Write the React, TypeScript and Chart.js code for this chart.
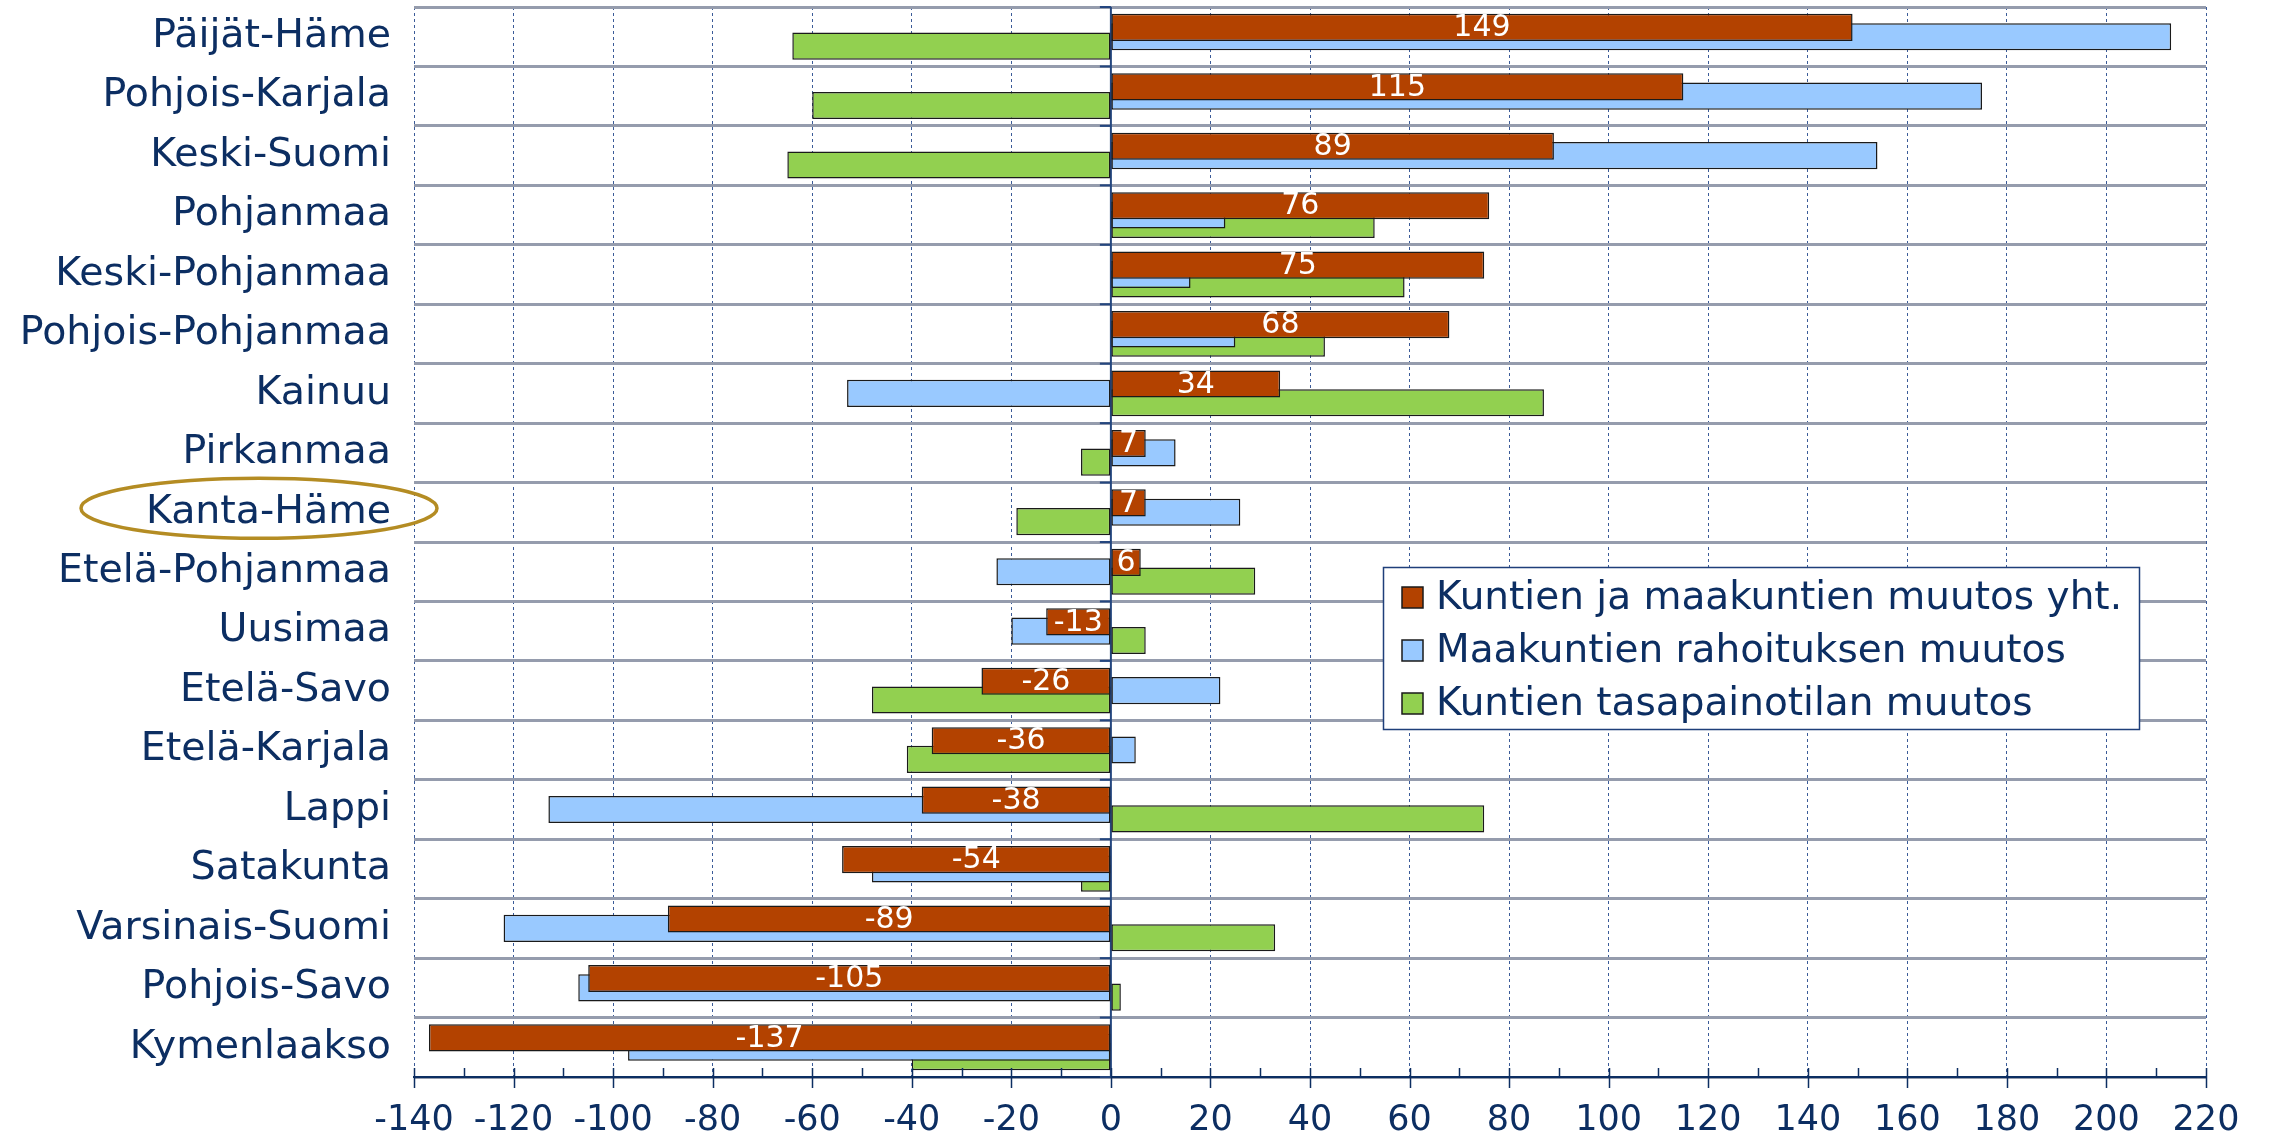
import React, { useEffect, useRef } from 'react';
import { Chart, registerables } from 'chart.js';

Chart.register(...registerables);

const categories = [
  'Päijät-Häme', 'Pohjois-Karjala', 'Keski-Suomi', 'Pohjanmaa', 'Keski-Pohjanmaa',
  'Pohjois-Pohjanmaa', 'Kainuu', 'Pirkanmaa', 'Kanta-Häme', 'Etelä-Pohjanmaa',
  'Uusimaa', 'Etelä-Savo', 'Etelä-Karjala', 'Lappi', 'Satakunta',
  'Varsinais-Suomi', 'Pohjois-Savo', 'Kymenlaakso',
];
const totalChange = [149, 115, 89, 76, 75, 68, 34, 7, 7, 6, -13, -26, -36, -38, -54, -89, -105, -137];
const regionFundingChange = [213, 175, 154, 23, 16, 25, -53, 13, 26, -23, -20, 22, 5, -113, -48, -122, -107, -97];
const municipalBalanceChange = [-64, -60, -65, 53, 59, 43, 87, -6, -19, 29, 7, -48, -41, 75, -6, 33, 2, -40];
const seriesNames = [
  'Kuntien ja maakuntien muutos yht.',
  'Maakuntien rahoituksen muutos',
  'Kuntien tasapainotilan muutos',
];
const seriesColors = ['#b34200', '#99c9ff', '#92d050'];
const xMin = -140;
const xMax = 220;
const xStep = 20;
const highlightedCategory = 'Kanta-Häme';

const NAVY = '#0c2e62';
const FONT = "'DejaVu Sans', Verdana, sans-serif";

const decorPlugin = {
  id: 'decor',
  beforeDatasetsDraw(chart: any) {
    const { ctx, chartArea, scales } = chart;
    const x = scales.x;
    const x0 = x.getPixelForValue(0);
    ctx.save();
    ctx.strokeStyle = '#24467f';
    ctx.lineWidth = 2;
    ctx.beginPath();
    ctx.moveTo(x0, chartArea.top);
    ctx.lineTo(x0, chartArea.bottom);
    ctx.stroke();
    for (let i = 0; i <= categories.length; i++) {
      const py = chartArea.top + (i * (chartArea.bottom - chartArea.top)) / categories.length;
      ctx.beginPath();
      ctx.moveTo(x0 - 11, py);
      ctx.lineTo(x0, py);
      ctx.stroke();
    }
    ctx.restore();
  },
  afterDatasetsDraw(chart: any) {
    const { ctx } = chart;
    const meta = chart.getDatasetMeta(0);
    ctx.save();
    ctx.font = `30px ${FONT}`;
    ctx.fillStyle = '#ffffff';
    ctx.textAlign = 'center';
    ctx.textBaseline = 'middle';
    meta.data.forEach((el: any, i: number) => {
      const p = el.getProps(['x', 'y', 'base'], true);
      ctx.fillText(String(totalChange[i]), (p.x + p.base) / 2, p.y + 1);
    });
    ctx.restore();
  },
  afterDraw(chart: any) {
    const { ctx, chartArea, scales } = chart;
    const x = scales.x;
    const y = scales.y;
    ctx.save();
    ctx.strokeStyle = NAVY;
    ctx.lineWidth = 1.5;
    const bottom = chartArea.bottom;
    for (let v = xMin; v <= xMax; v += xStep / 2) {
      const px = Math.round(x.getPixelForValue(v)) + 0.5;
      const major = (v - xMin) % xStep === 0;
      ctx.beginPath();
      ctx.moveTo(px, bottom - 9);
      ctx.lineTo(px, major ? bottom + 11 : bottom);
      ctx.stroke();
    }

    const lx = chartArea.left + 969;
    const ly = chartArea.top + 560;
    const lw = 756;
    const lh = 162;
    ctx.fillStyle = '#ffffff';
    ctx.fillRect(lx, ly, lw, lh);
    ctx.strokeStyle = '#1f3f7a';
    ctx.lineWidth = 1.5;
    ctx.strokeRect(lx + 0.5, ly + 0.5, lw, lh);
    ctx.font = `39px ${FONT}`;
    ctx.textAlign = 'left';
    ctx.textBaseline = 'middle';
    seriesNames.forEach((name, i) => {
      const cy = ly + 30 + i * 53;
      ctx.fillStyle = seriesColors[i];
      ctx.fillRect(lx + 19, cy - 10, 21, 21);
      ctx.strokeStyle = '#1a1a1a';
      ctx.lineWidth = 1.5;
      ctx.strokeRect(lx + 19, cy - 10, 21, 21);
      ctx.fillStyle = NAVY;
      ctx.fillText(name, lx + 53, cy + 2);
    });

    const idx = categories.indexOf(highlightedCategory);
    if (idx >= 0) {
      const cy = y.getPixelForValue(idx) - 4;
      ctx.strokeStyle = '#b48c23';
      ctx.lineWidth = 3.5;
      ctx.beginPath();
      ctx.ellipse(259, cy, 178, 30, 0, 0, Math.PI * 2);
      ctx.stroke();
    }
    ctx.restore();
  },
};

export default function App() {
  const canvasRef = useRef<HTMLCanvasElement | null>(null);

  useEffect(() => {
    const canvas = canvasRef.current;
    if (!canvas) return;
    const datasetsData = [totalChange, regionFundingChange, municipalBalanceChange];
    const chart = new Chart(canvas, {
      type: 'bar',
      data: {
        labels: categories,
        datasets: datasetsData.map((d, i) => ({
          label: seriesNames[i],
          data: d,
          backgroundColor: seriesColors[i],
          borderColor: '#1a1a1a',
          borderWidth: 1.5,
          borderSkipped: false,
          categoryPercentage: 0.472,
          barPercentage: 2.9,
        })),
      },
      options: {
        indexAxis: 'y',
        responsive: false,
        animation: false,
        devicePixelRatio: 1,
        layout: { padding: { top: 7, right: 63, left: 0, bottom: 0 } },
        plugins: {
          legend: { display: false },
          tooltip: { enabled: false },
        },
        scales: {
          x: {
            type: 'linear',
            min: xMin,
            max: xMax,
            ticks: {
              stepSize: xStep,
              padding: 23,
              color: NAVY,
              font: { family: FONT, size: 35 },
              autoSkip: false,
              maxRotation: 0,
              callback: (v: any) => String(v),
            },
            grid: { color: '#3b5b98', lineWidth: 1, drawTicks: false },
            border: { display: true, color: NAVY, width: 2, dash: [3, 3] },
            afterFit: (s: any) => {
              s.height = 67;
              s.paddingLeft = 0;
              s.paddingRight = 0;
            },
          },
          y: {
            type: 'category',
            ticks: {
              padding: 23,
              color: NAVY,
              font: { family: FONT, size: 39.5 },
              autoSkip: false,
            },
            grid: { color: '#959cad', lineWidth: 3, drawTicks: false, offset: true },
            border: { display: false },
            afterFit: (s: any) => {
              s.width = 414;
              s.paddingTop = 0;
              s.paddingBottom = 0;
            },
          },
        },
      } as any,
      plugins: [decorPlugin],
    });
    return () => chart.destroy();
  }, []);

  return (
    <div style={{ position: 'fixed', left: 0, top: 0, width: 2269, height: 1144, background: '#ffffff' }}>
      <canvas ref={canvasRef} width={2269} height={1144} style={{ display: 'block' }} />
    </div>
  );
}
